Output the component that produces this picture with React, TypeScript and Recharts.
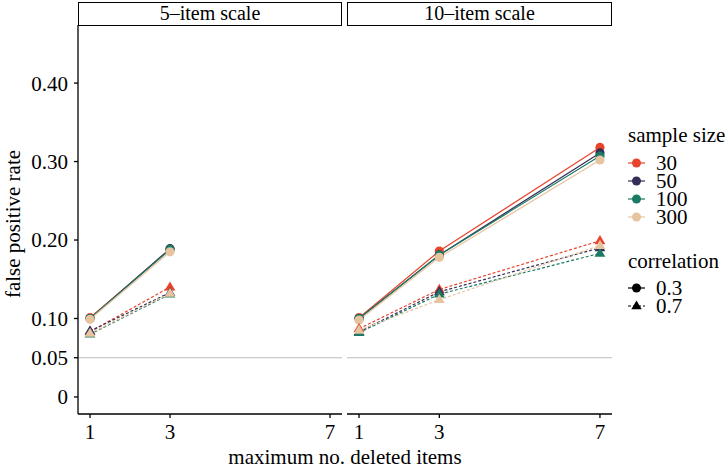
import React from 'react';
import { LineChart, Line, XAxis, YAxis, ReferenceLine } from 'recharts';

const xTicks = [1, 3, 7];
const yTicks = [0, 0.05, 0.1, 0.2, 0.3, 0.4];
const sampleSizes = ['30', '50', '100', '300'];
const sampleColors = ['#E8432B', '#352E57', '#1A7A63', '#E6C49F'];
const correlations = ['0.3', '0.7'];
const panelTitles = ['5\u2013item scale', '10\u2013item scale'];

const fiveMaxDeleted = [1, 3];
const tenMaxDeleted = [1, 3, 7];

// 5-item scale, correlation 0.3
const five_r03_n30 = [0.101, 0.188];
const five_r03_n50 = [0.1, 0.189];
const five_r03_n100 = [0.1, 0.188];
const five_r03_n300 = [0.099, 0.185];
// 5-item scale, correlation 0.7
const five_r07_n30 = [0.083, 0.14];
const five_r07_n50 = [0.084, 0.133];
const five_r07_n100 = [0.08, 0.131];
const five_r07_n300 = [0.081, 0.132];

// 10-item scale, correlation 0.3
const ten_r03_n30 = [0.101, 0.186, 0.318];
const ten_r03_n50 = [0.1, 0.181, 0.311];
const ten_r03_n100 = [0.1, 0.181, 0.307];
const ten_r03_n300 = [0.098, 0.178, 0.302];
// 10-item scale, correlation 0.7
const ten_r07_n30 = [0.087, 0.137, 0.199];
const ten_r07_n50 = [0.083, 0.134, 0.19];
const ten_r07_n100 = [0.082, 0.131, 0.183];
const ten_r07_n300 = [0.085, 0.124, 0.193];

const buildRows = (xs: number[], r03: number[][], r07: number[][]) =>
  xs.map((x, i) => {
    const row: Record<string, number> = { x };
    sampleSizes.forEach((n, j) => {
      row[`r03_n${n}`] = r03[j][i];
      row[`r07_n${n}`] = r07[j][i];
    });
    return row;
  });

const fiveData = buildRows(
  fiveMaxDeleted,
  [five_r03_n30, five_r03_n50, five_r03_n100, five_r03_n300],
  [five_r07_n30, five_r07_n50, five_r07_n100, five_r07_n300]
);
const tenData = buildRows(
  tenMaxDeleted,
  [ten_r03_n30, ten_r03_n50, ten_r03_n100, ten_r03_n300],
  [ten_r07_n30, ten_r07_n50, ten_r07_n100, ten_r07_n300]
);

const FONT = 'Liberation Serif';
const FS = 21;
const Y_DOMAIN: [number, number] = [-0.0217, 0.474];
const X_DOMAIN: [number, number] = [0.7, 7.3];

const makeCircle = (color: string) => (props: any) => {
  const { cx, cy, index } = props;
  if (cx == null || cy == null) return <g key={`c${index}`} />;
  return <circle key={`c${index}`} cx={cx} cy={cy} r={4.6} fill={color} />;
};

const makeTriangle = (color: string) => (props: any) => {
  const { cx, cy, index } = props;
  if (cx == null || cy == null) return <g key={`t${index}`} />;
  const s = 5.7;
  const pts = `${cx},${cy - s} ${cx - s * 0.95},${cy + s * 0.6} ${cx + s * 0.95},${cy + s * 0.6}`;
  return <polygon key={`t${index}`} points={pts} fill={color} />;
};

const fmtY = (v: number) => (v === 0 ? '0' : v.toFixed(2));

const seriesLines = () => {
  const out: React.ReactNode[] = [];
  correlations.forEach((r, ri) => {
    sampleSizes.forEach((n, j) => {
      const key = `${ri === 0 ? 'r03' : 'r07'}_n${n}`;
      out.push(
        <Line
          key={key}
          type="linear"
          dataKey={key}
          stroke={sampleColors[j]}
          strokeWidth={1.2}
          strokeDasharray={ri === 0 ? undefined : '3 2'}
          dot={ri === 0 ? makeCircle(sampleColors[j]) : makeTriangle(sampleColors[j])}
          activeDot={false}
          isAnimationActive={false}
        />
      );
    });
  });
  return out;
};

const tickStyle = { fontFamily: FONT, fontSize: FS, fill: '#000' };

const Strip = ({ left, width, title }: { left: number; width: number; title: string }) => (
  <div
    style={{
      position: 'absolute',
      left,
      top: 2,
      width,
      height: 24,
      boxSizing: 'border-box',
      border: '1.6px solid #000',
      fontFamily: FONT,
      fontSize: 20,
      lineHeight: '21px',
      textAlign: 'center',
      color: '#000',
      background: '#fff',
    }}
  >
    {title}
  </div>
);

export default function App() {
  return (
    <div
      style={{
        position: 'absolute',
        left: 0,
        top: 0,
        width: 725,
        height: 469,
        background: '#fff',
        overflow: 'hidden',
      }}
    >
      <Strip left={78} width={264} title={panelTitles[0]} />
      <Strip left={347} width={265} title={panelTitles[1]} />

      <div style={{ position: 'absolute', left: 0, top: 0 }}>
        <LineChart width={345} height={469} data={fiveData} margin={{ top: 25, right: 3, bottom: 20, left: 8 }}>
          <ReferenceLine y={0.05} stroke="#BDBDBD" strokeWidth={1.2} />
          <XAxis
            type="number"
            dataKey="x"
            domain={X_DOMAIN}
            ticks={xTicks}
            allowDataOverflow
            height={35}
            tickSize={4}
            tickMargin={6}
            tick={tickStyle}
            axisLine={{ stroke: '#000', strokeWidth: 1.3 }}
            tickLine={{ stroke: '#000', strokeWidth: 1.3 }}
          />
          <YAxis
            type="number"
            domain={Y_DOMAIN}
            ticks={yTicks}
            allowDataOverflow
            width={70}
            tickSize={4}
            tickMargin={6}
            tickFormatter={fmtY}
            tick={tickStyle}
            axisLine={{ stroke: '#000', strokeWidth: 1.3 }}
            tickLine={{ stroke: '#000', strokeWidth: 1.3 }}
          />
          {seriesLines()}
        </LineChart>
      </div>

      <div style={{ position: 'absolute', left: 345, top: 0 }}>
        <LineChart width={270} height={469} data={tenData} margin={{ top: 25, right: 3, bottom: 20, left: 2 }}>
          <ReferenceLine y={0.05} stroke="#BDBDBD" strokeWidth={1.2} />
          <XAxis
            type="number"
            dataKey="x"
            domain={X_DOMAIN}
            ticks={xTicks}
            allowDataOverflow
            height={35}
            tickSize={4}
            tickMargin={6}
            tick={tickStyle}
            axisLine={{ stroke: '#000', strokeWidth: 1.3 }}
            tickLine={{ stroke: '#000', strokeWidth: 1.3 }}
          />
          <YAxis type="number" domain={Y_DOMAIN} ticks={yTicks} allowDataOverflow hide />
          {seriesLines()}
        </LineChart>
      </div>

      <svg
        width={725}
        height={469}
        style={{ position: 'absolute', left: 0, top: 0, pointerEvents: 'none' }}
        fontFamily={FONT}
      >
        <text x={345} y={464} textAnchor="middle" fontSize={FS} fill="#000">
          maximum no. deleted items
        </text>
        <text
          x={13}
          y={224}
          textAnchor="middle"
          fontSize={FS}
          fill="#000"
          transform="rotate(-90 13 224)"
          dominantBaseline="central"
        >
          false positive rate
        </text>

        <text x={628} y={142} fontSize={FS} fill="#000">
          sample size
        </text>
        {sampleSizes.map((n, j) => {
          const y = 163 + j * 18;
          return (
            <g key={n}>
              <line x1={628} x2={645} y1={y} y2={y} stroke={sampleColors[j]} strokeWidth={1.2} />
              <circle cx={636.5} cy={y} r={4.5} fill={sampleColors[j]} />
              <text x={656} y={y + 6.5} fontSize={FS} fill="#000">
                {n}
              </text>
            </g>
          );
        })}

        <text x={628} y={268} fontSize={FS} fill="#000">
          correlation
        </text>
        {correlations.map((r, i) => {
          const y = 288 + i * 18;
          const cx = 636.5;
          return (
            <g key={r}>
              <line
                x1={628}
                x2={645}
                y1={y}
                y2={y}
                stroke="#000"
                strokeWidth={1.2}
                strokeDasharray={i === 0 ? undefined : '3 2'}
              />
              {i === 0 ? (
                <circle cx={cx} cy={y} r={4.5} fill="#000" />
              ) : (
                <polygon
                  points={`${cx},${y - 5.5} ${cx - 5.2},${y + 3.3} ${cx + 5.2},${y + 3.3}`}
                  fill="#000"
                />
              )}
              <text x={656} y={y + 6.5} fontSize={FS} fill="#000">
                {r}
              </text>
            </g>
          );
        })}
      </svg>
    </div>
  );
}
